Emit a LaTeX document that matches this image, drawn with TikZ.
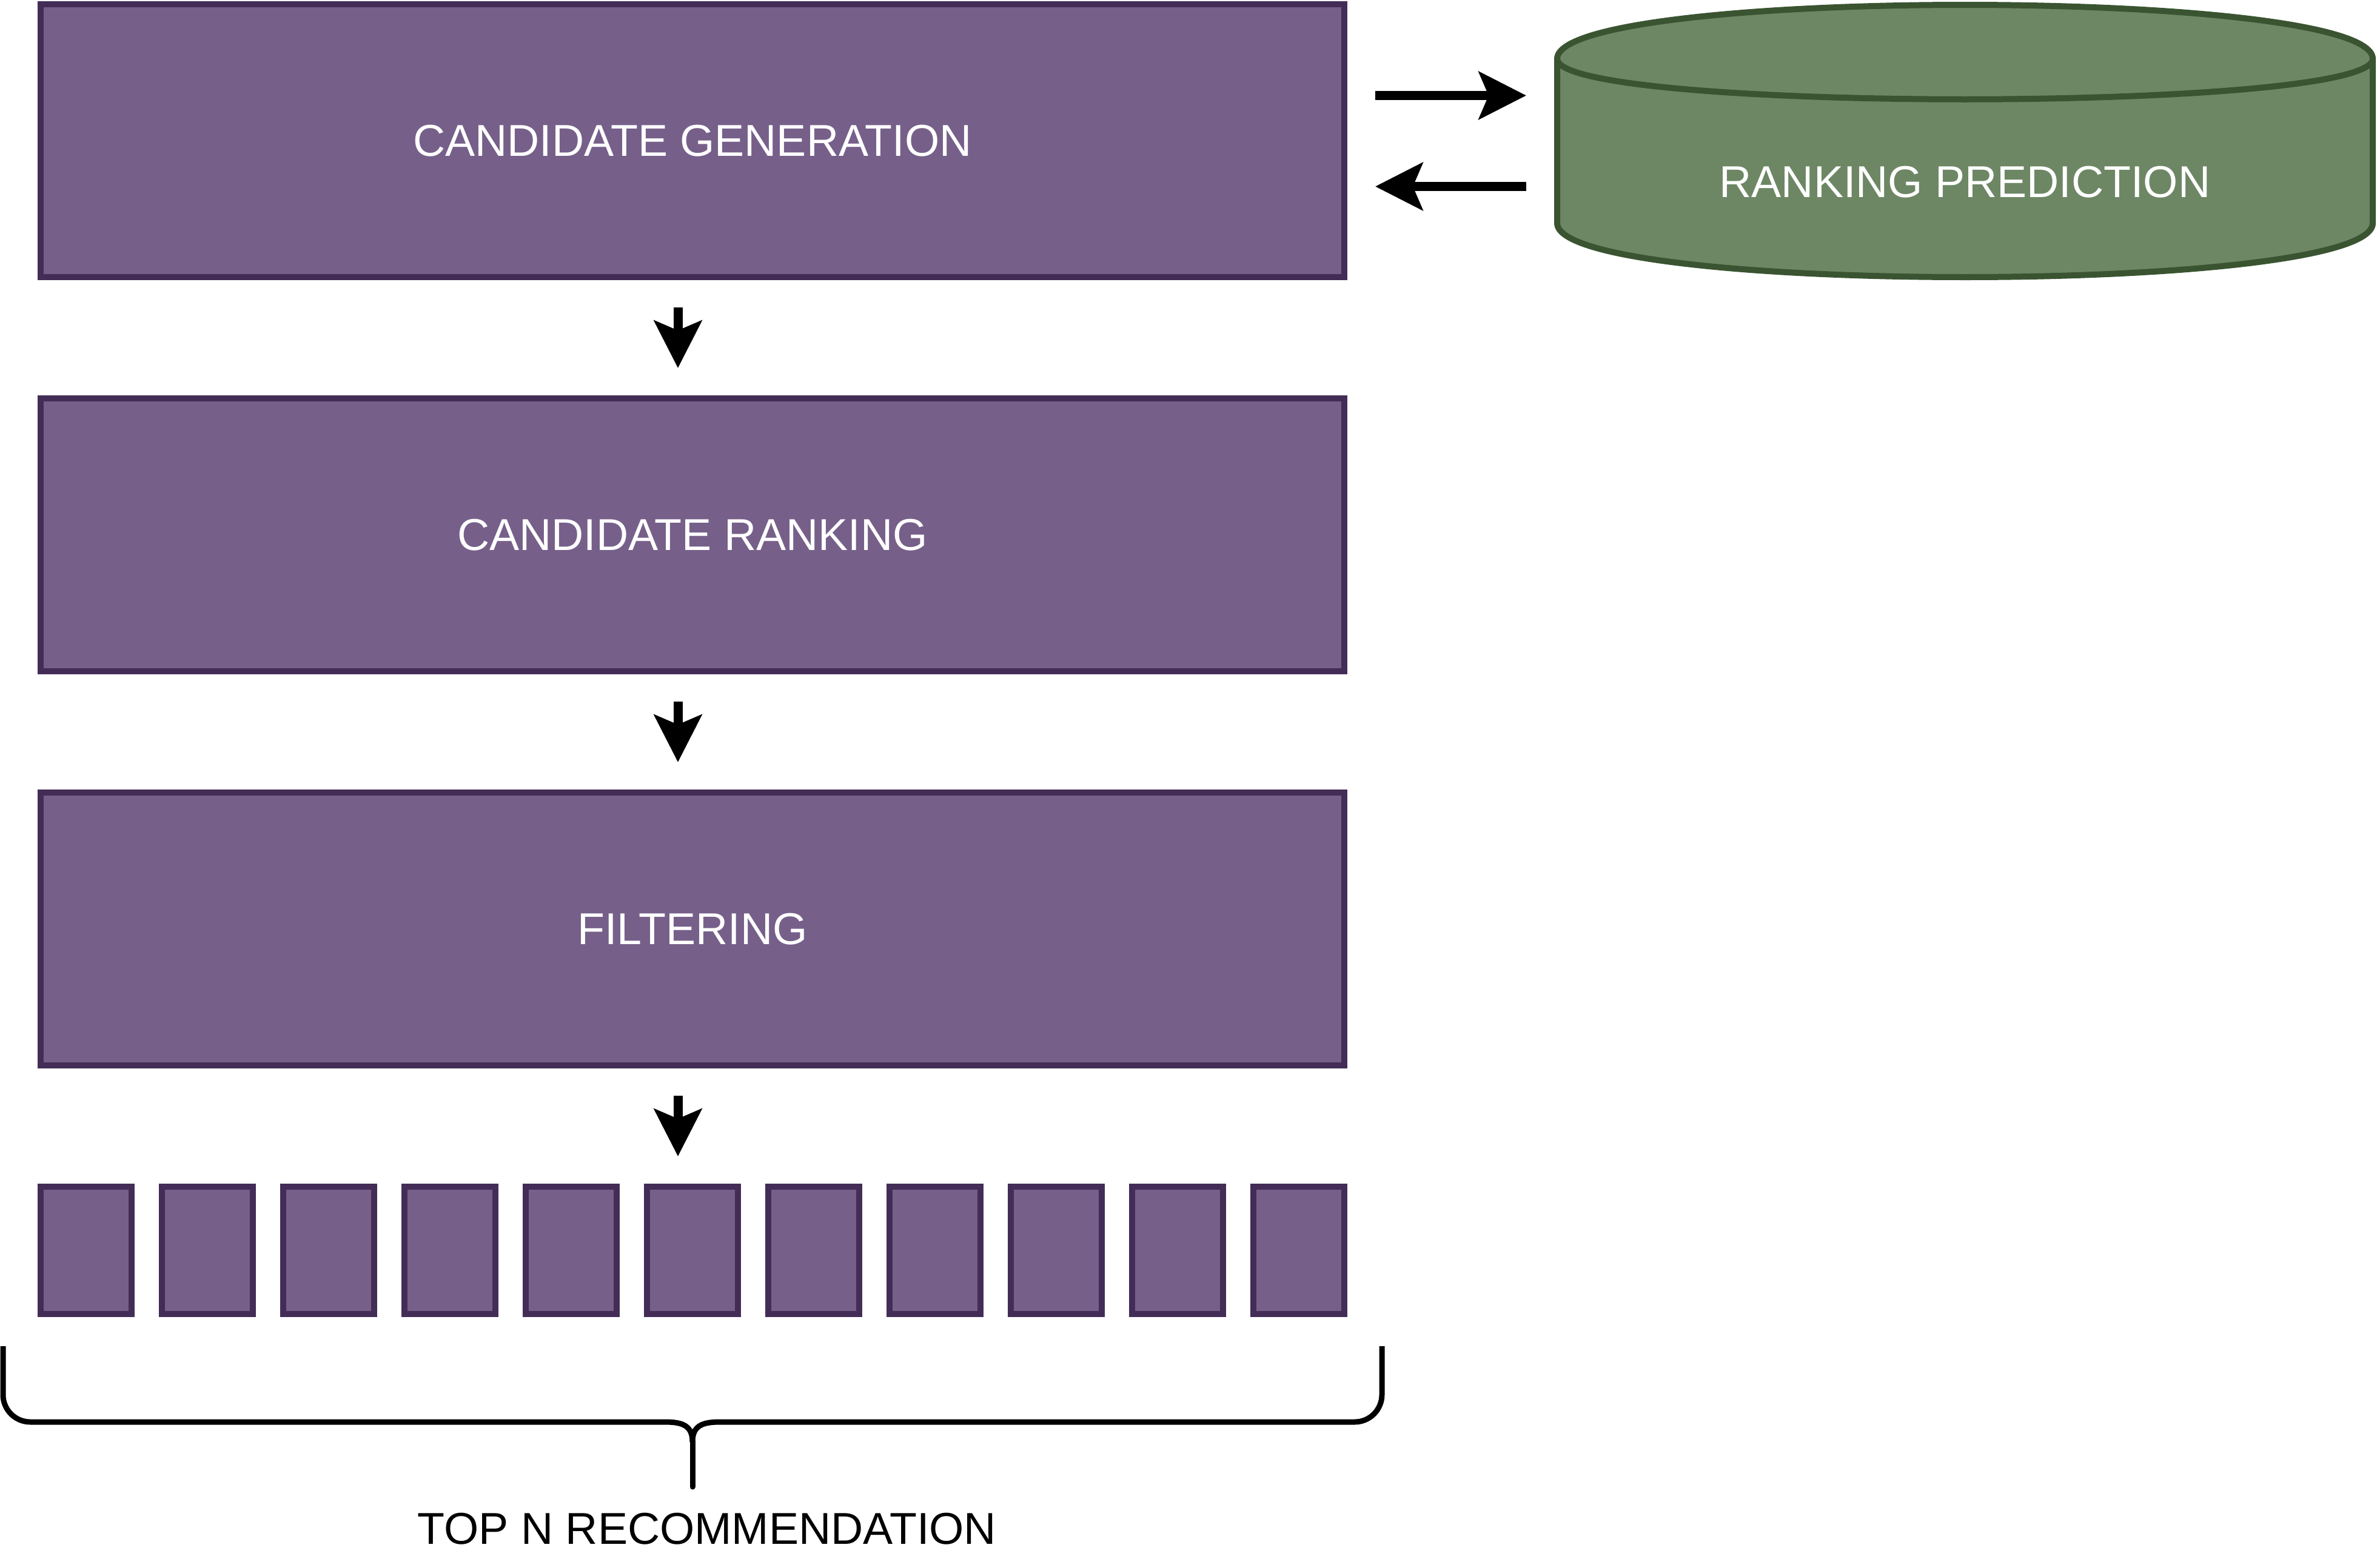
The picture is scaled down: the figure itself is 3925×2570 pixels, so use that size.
\documentclass[tikz,border=0pt]{standalone}
\usepackage{fontspec}
\setmainfont{Liberation Sans}
\usetikzlibrary{arrows.meta}
\definecolor{pfill}{HTML}{76608A}
\definecolor{pdraw}{HTML}{432D57}
\definecolor{gfill}{HTML}{6D8764}
\definecolor{gdraw}{HTML}{3A5431}
\begin{document}
\begin{tikzpicture}[x=0.25pt,y=-0.25pt,
  lbl/.style={font=\fontsize{18.4pt}{22pt}\selectfont},
  stage/.style={draw=pdraw, fill=pfill, line width=2.5pt, minimum width=537.5pt, minimum height=112.5pt, inner sep=0pt, text=white, lbl, text depth=-1pt},
  item/.style={draw=pdraw, fill=pfill, line width=2.5pt, minimum width=37.5pt, minimum height=52.5pt, inner sep=0pt},
  arr/.style={line width=3.75pt, -{Stealth[length=19.5pt,width=19.5pt,inset=4pt]}},
  vgap/.style={shorten <=11.25pt, shorten >=11.25pt},
  hgap/.style={shorten <=11.5pt, shorten >=11.5pt}]
\useasboundingbox (0,0) rectangle (3925,2570);

% stages
\node[stage] (gen)  at (1142,232)  {CANDIDATE GENERATION};
\node[stage] (rank) at (1142,882)  {CANDIDATE RANKING};
\node[stage] (filt) at (1142,1532) {FILTERING};

% ranking prediction cylinder
\def\cxa{2568}\def\cxb{3913}\def\cya{8}\def\cyb{457}\def\cdy{89}
\fill[gfill] (\cxa,\cya+\cdy) .. controls (\cxa,\cya-\cdy/3) and (\cxb,\cya-\cdy/3) .. (\cxb,\cya+\cdy)
  -- (\cxb,\cyb-\cdy) .. controls (\cxb,\cyb+\cdy/3) and (\cxa,\cyb+\cdy/3) .. (\cxa,\cyb-\cdy) -- cycle;
\draw[gdraw, line width=2.5pt, line join=round] (\cxa,\cya+\cdy) .. controls (\cxa,\cya-\cdy/3) and (\cxb,\cya-\cdy/3) .. (\cxb,\cya+\cdy)
  -- (\cxb,\cyb-\cdy) .. controls (\cxb,\cyb+\cdy/3) and (\cxa,\cyb+\cdy/3) .. (\cxa,\cyb-\cdy) -- cycle;
\draw[gdraw, line width=2.5pt] (\cxa,\cya+\cdy) .. controls (\cxa,\cya+2*\cdy) and (\cxb,\cya+2*\cdy) .. (\cxb,\cya+\cdy);
\node[lbl, text=white, minimum width=336.25pt, minimum height=80pt, inner sep=0pt, outer sep=1.25pt] (pred) at (3240.5,300) {RANKING PREDICTION};

% items
\foreach \i in {1,...,11} {
  \node[item] (s\i) at ({142+200*(\i-1)},2062) {};
}

% connectors
\draw[arr, vgap] ([xshift=-6pt]gen.south) -- ([xshift=-6pt]rank.north);
\draw[arr, vgap] ([xshift=-6pt]rank.south) -- ([xshift=-6pt]filt.north);
\draw[arr, vgap] ([xshift=-6pt]filt.south) -- ([xshift=-6pt]s6.north);
\draw[arr, hgap] (gen.east |- 0,157.5) -- (pred.west |- 0,157.5);
\draw[arr, hgap] (pred.west |- 0,307.5) -- (gen.east |- 0,307.5);

% brace
\draw[line width=2.25pt, line cap=butt]
  (5,2220) -- (5,2300) arc[start angle=180, end angle=270, radius=11.25pt] -- (1097,2345)
  .. controls (1127,2345) and (1142,2352) .. (1142,2378);
\draw[line width=2.25pt, line cap=butt]
  (2279,2220) -- (2279,2300) arc[start angle=0, end angle=-90, radius=11.25pt] -- (1187,2345)
  .. controls (1157,2345) and (1142,2352) .. (1142,2378);
\draw[line width=2.25pt, line cap=round] (1142,2376) -- (1142,2452);
\node[lbl] (topn) at (1166,2521) {TOP N RECOMMENDATION};
\end{tikzpicture}
\end{document}
